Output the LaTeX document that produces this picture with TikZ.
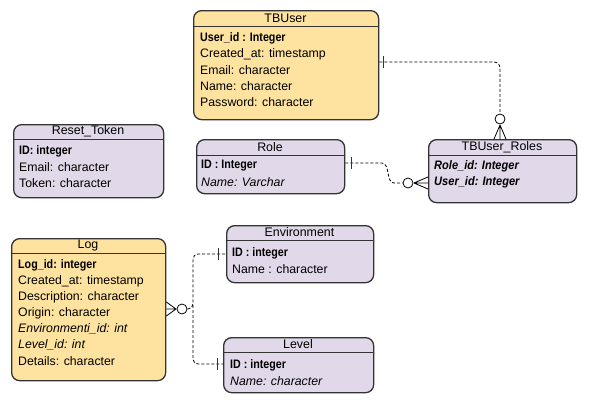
\documentclass[tikz,border=0pt]{standalone}
\usepackage{graphicx}
\usepackage{fontspec}
\setmainfont{Liberation Sans}
\newcommand{\bfk}[1]{\scalebox{0.87}[1]{\textbf{#1}}}
\newcommand{\bik}[1]{\scalebox{0.9}[1]{\textbf{\textit{#1}}}}
\definecolor{yel}{HTML}{FEE29F}
\definecolor{pur}{HTML}{E1D8E9}
\definecolor{bord}{HTML}{333333}
\begin{document}
\begin{tikzpicture}[x=1pt,y=-1pt,
  entity/.style={draw=bord, line width=1.3pt, rounded corners=8pt, anchor=north west, inner sep=0pt},
  hdr/.style={draw=bord, line width=0.8pt},
  ttl/.style={font=\fontsize{12.4}{14}\selectfont, inner sep=0pt},
  row/.style={anchor=west, font=\fontsize{12.3}{14}\selectfont, inner sep=0pt},
  conn/.style={dashed, dash pattern=on 3pt off 2pt, line width=0.8pt, black},
  bar/.style={line width=1pt, black!80},
  foot/.style={line width=0.8pt, black},
  ring/.style={circle, draw=black, line width=0.8pt, fill=white, minimum size=10pt, inner sep=0pt}]
\useasboundingbox (0,0) rectangle (589,407);
\fill[white] (0,0) rectangle (589,407);

% ---------- TBUser ----------
\node[entity, fill=yel, minimum width=185pt, minimum height=109pt] (tbuser) at (193,10) {};
\draw[hdr] (193,26.5) -- (378,26.5);
\node[ttl] (tbuserT) at (285.5,18) {TBUser};
\node[row] (tbu1) at (200,38) {\bfk{User\_id : Integer}};
\node[row] (tbu2) at (200,54) {Created\_at: timestamp};
\node[row] (tbu3) at (200,70) {Email: character};
\node[row] (tbu4) at (200,86) {Name: character};
\node[row] (tbu5) at (200,102) {Password: character};

% ---------- Reset_Token ----------
\node[entity, fill=pur, minimum width=150pt, minimum height=73pt] (reset) at (13,124) {};
\draw[hdr] (13,139) -- (163,139);
\node[ttl] (resetT) at (88,131.5) {Reset\_Token};
\node[row] (rt1) at (19,151) {\bfk{ID: integer}};
\node[row] (rt2) at (19,167) {Email: character};
\node[row] (rt3) at (19,183) {Token: character};

% ---------- Role ----------
\node[entity, fill=pur, minimum width=148pt, minimum height=54pt] (role) at (196,139) {};
\draw[hdr] (196,155) -- (344,155);
\node[ttl] (roleT) at (270,147) {Role};
\node[row] (ro1) at (201,166) {\bfk{ID : Integer}};
\node[row] (ro2) at (201,182) {\textit{Name: Varchar}};

% ---------- TBUser_Roles ----------
\node[entity, fill=pur, minimum width=148pt, minimum height=63pt] (tbur) at (428,139) {};
\draw[hdr] (428,155) -- (576,155);
\node[ttl] (tburT) at (502,147) {TBUser\_Roles};
\node[row] (tr1) at (434,166) {\bik{Role\_id: Integer}};
\node[row] (tr2) at (434,182) {\bik{User\_id: Integer}};

% ---------- Log ----------
\node[entity, fill=yel, minimum width=154pt, minimum height=142pt] (log) at (11,238) {};
\draw[hdr] (11,253) -- (165,253);
\node[ttl] (logT) at (88,245.5) {Log};
\node[row] (lg1) at (18,265) {\bfk{Log\_id: integer}};
\node[row] (lg2) at (18,281) {Created\_at: timestamp};
\node[row] (lg3) at (18,297) {Description: character};
\node[row] (lg4) at (18,313) {Origin: character};
\node[row] (lg5) at (18,329) {\textit{Environmenti\_id: int}};
\node[row] (lg6) at (18,345) {\textit{Level\_id: int}};
\node[row] (lg7) at (18,361) {Details: character};

% ---------- Environment ----------
\node[entity, fill=pur, minimum width=147pt, minimum height=57pt] (env) at (226,225) {};
\draw[hdr] (226,240) -- (373,240);
\node[ttl] (envT) at (299.5,232.5) {Environment};
\node[row] (en1) at (232,253) {\bfk{ID : integer}};
\node[row] (en2) at (232,269) {Name : character};

% ---------- Level ----------
\node[entity, fill=pur, minimum width=150pt, minimum height=55pt] (level) at (223,337) {};
\draw[hdr] (223,352) -- (373,352);
\node[ttl] (levelT) at (298,344.5) {Level};
\node[row] (lv1) at (230,365) {\bfk{ID : integer}};
\node[row] (lv2) at (230,381) {\textit{Name: character}};

% ---------- Connector TBUser -- TBUser_Roles ----------
\node[ring] (r1) at (500,119) {};
\draw[conn, rounded corners=6pt] (tbuser.east |- 0,62) -- (500,62) -- (r1.north);
\draw[bar] (383,56) -- (383,68);
\coordinate (f1) at (500,125);
\draw[foot] (f1) -- (494,139) (f1) -- (506,139) (f1) -- (500,139);

% ---------- Connector Role -- TBUser_Roles ----------
\node[ring] (r2) at (408,183) {};
\draw[conn] (role.east |- 0,163) -- (382,163) .. controls (390,163) and (386,183) .. (394,183) -- (r2.west);
\draw[bar] (351,157) -- (351,169);
\coordinate (f2) at (414,183);
\draw[foot] (f2) -- (428,177) (f2) -- (428,189) (f2) -- (428,183);

% ---------- Connector Log -- Environment / Level ----------
\node[ring] (r3) at (182,309) {};
\coordinate (f3) at (176,309);
\draw[foot] (log.east |- 0,302) -- (f3) -- (log.east |- 0,316) (log.east |- 0,309) -- (f3);
\draw[conn, rounded corners=5pt] (r3.east) -- (193,309) -- (193,254) -- (env.west |- 0,254);
\draw[conn, rounded corners=5pt] (193,305) -- (193,364) -- (level.west |- 0,364);
\draw[bar] (218,248) -- (218,260);
\draw[bar] (217,358) -- (217,370);
\end{tikzpicture}
\end{document}
